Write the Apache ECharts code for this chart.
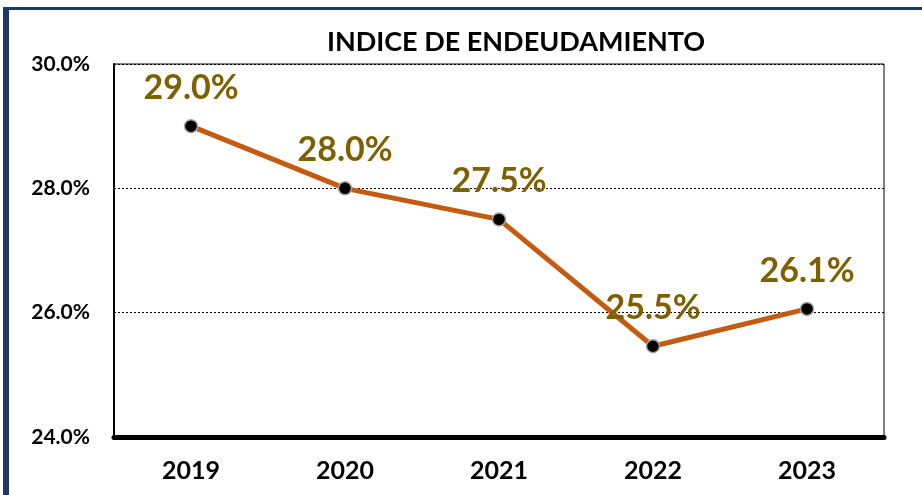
<!DOCTYPE html>
<html lang="es">
<head>
<meta charset="UTF-8">
<title>Indice de endeudamiento</title>
<script src="https://cdn.jsdelivr.net/npm/echarts@6/dist/echarts.min.js"></script>
<style>
    html, body { margin: 0; padding: 0; background: #fff; }
    #main { width: 922px; height: 495px; }
</style>
</head>
<body>
<div id="main"></div>
<script type="text/javascript">
    // datos
    var years = ['2019', '2020', '2021', '2022', '2023'];
    var ratios = [29.0, 28.0, 27.5, 25.46, 26.06];
    var yTicks = [24, 26, 28, 30];

    var font = 'Lato, "Open Sans", sans-serif';

    var myChart = echarts.init(document.getElementById('main'));

    var option = {
        animation: false,
        title: {
            text: 'INDICE DE ENDEUDAMIENTO',
            left: 511,
            top: 24,
            textAlign: 'center',
            textStyle: { fontFamily: font, fontWeight: 'bold', fontSize: 27, color: '#000' }
        },
        // marco azul
        graphic: [
            { type: 'rect', shape: { x: 3, y: 7, width: 919, height: 3 }, style: { fill: '#1f3864' } },
            { type: 'rect', shape: { x: 3, y: 7, width: 6, height: 488 }, style: { fill: '#1f3864' } }
        ],
        grid: {
            left: 114,
            right: 38,
            top: 64,
            bottom: 58,
            show: true,
            borderColor: '#000',
            borderWidth: 1
        },
        xAxis: {
            type: 'category',
            data: years,
            axisLine: { lineStyle: { color: '#000', width: 5 } },
            axisTick: { show: false },
            axisLabel: { margin: 21, fontFamily: font, fontWeight: 'bold', fontSize: 25, color: '#000' }
        },
        yAxis: {
            type: 'value',
            min: yTicks[0],
            max: yTicks[yTicks.length - 1],
            interval: 2,
            axisLine: { show: true, lineStyle: { color: '#000', width: 2 } },
            axisTick: { show: false },
            axisLabel: {
                margin: 24,
                fontFamily: font, fontWeight: 'bold', fontSize: 21, color: '#000',
                formatter: function (v) { return v.toFixed(1) + '%'; }
            },
            splitLine: { lineStyle: { color: '#000', type: [2, 2], width: 1 } }
        },
        series: [{
            type: 'line',
            data: ratios,
            symbol: 'circle',
            symbolSize: 13,
            lineStyle: { color: '#c55a11', width: 5 },
            itemStyle: { color: '#000', borderColor: '#a6a6a6', borderWidth: 1.5 },
            label: {
                show: true,
                position: 'top',
                distance: 14,
                fontFamily: font,
                fontWeight: 'bold',
                fontSize: 34,
                color: '#7f6000',
                formatter: function (p) { return p.value.toFixed(1) + '%'; }
            },
            z: 3
        }]
    };

    myChart.setOption(option);
</script>
</body>
</html>
